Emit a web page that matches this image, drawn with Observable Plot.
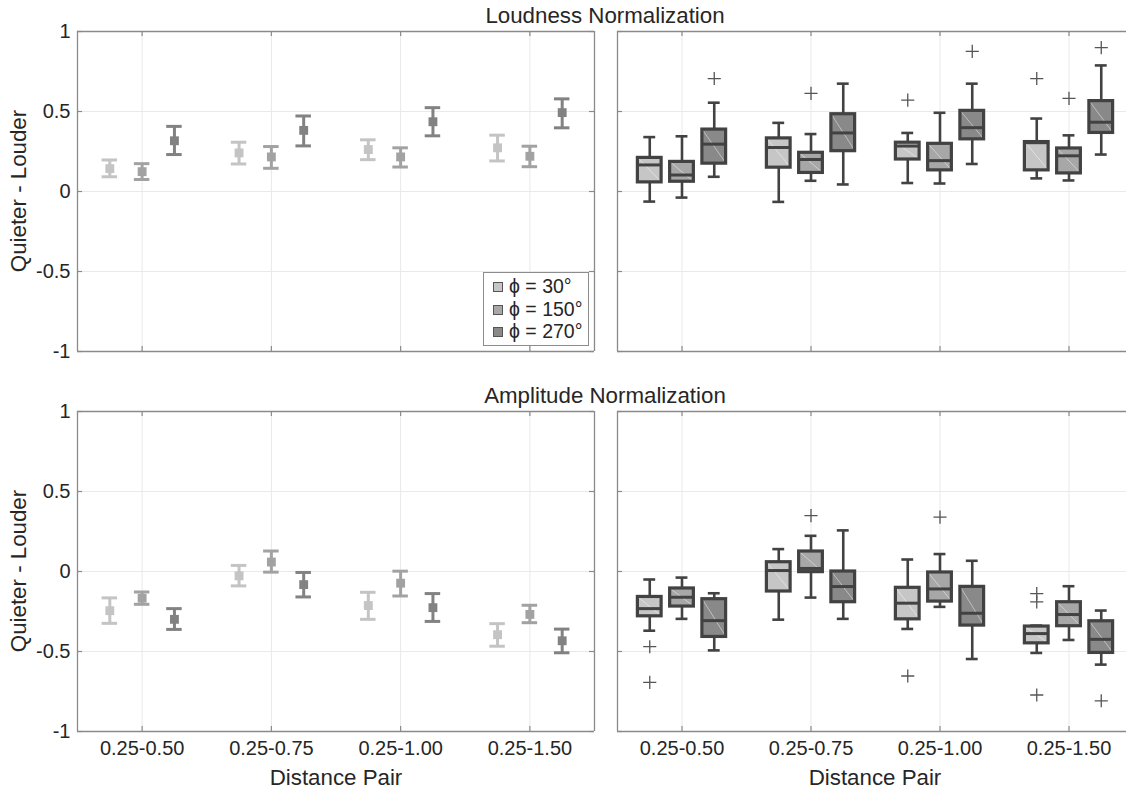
<!DOCTYPE html>
<html><head><meta charset="utf-8">
<script src="https://cdn.jsdelivr.net/npm/d3@7"></script>
<script src="https://cdn.jsdelivr.net/npm/@observablehq/plot@0.6"></script>
<style>
html,body{margin:0;padding:0;background:#fff;overflow:hidden;}
#root{position:relative;width:1126px;height:791px;overflow:hidden;font-family:"Liberation Sans",Helvetica,Arial,sans-serif;color:#262626;}
.pnl{position:absolute;overflow:hidden;}
.pnl svg{max-width:none !important;}
.t{position:absolute;white-space:nowrap;line-height:22px;font-size:22.3px;text-align:center;}
.yl{position:absolute;white-space:nowrap;line-height:22px;font-size:22.3px;text-align:center;width:220px;height:22px;transform:rotate(-90deg);}
#legend{position:absolute;left:483px;top:272px;width:104px;height:72px;border:1px solid #8c8c8c;background:#fff;font-size:19.5px;}
#legend .row{position:absolute;left:9px;height:22px;line-height:22px;white-space:nowrap;}
#legend .sw{display:inline-block;width:8px;height:8px;border:1px solid #555;margin-right:6px;vertical-align:1px;}
</style>
</head><body>
<div id="root"></div>
<script>
// ---------- data ----------
const pairs = ["0.25-0.50", "0.25-0.75", "0.25-1.00", "0.25-1.50"];
const phis = ["ϕ = 30°", "ϕ = 150°", "ϕ = 270°"];
const yTicks = [-1, -0.5, 0, 0.5, 1];
const titles = ["Loudness Normalization", "Amplitude Normalization"];
const xLabel = "Distance Pair";
const yLabel = "Quieter - Louder";

// error bars (rows: phi, cols: pair)
const loudMean = [[0.143, 0.241, 0.262, 0.273], [0.124, 0.216, 0.216, 0.220], [0.317, 0.382, 0.436, 0.493]];
const loudLo   = [[0.092, 0.172, 0.199, 0.191], [0.075, 0.145, 0.153, 0.155], [0.231, 0.285, 0.348, 0.398]];
const loudHi   = [[0.197, 0.308, 0.323, 0.352], [0.174, 0.281, 0.273, 0.283], [0.407, 0.472, 0.524, 0.579]];
const ampMean  = [[-0.245, -0.027, -0.213, -0.395], [-0.167, 0.059, -0.073, -0.268], [-0.299, -0.082, -0.226, -0.433]];
const ampLo    = [[-0.324, -0.090, -0.299, -0.467], [-0.205, -0.004, -0.153, -0.320], [-0.362, -0.159, -0.312, -0.508]];
const ampHi    = [[-0.165, 0.038, -0.130, -0.326], [-0.128, 0.128, 0.002, -0.211], [-0.232, -0.006, -0.138, -0.360]];

// box plots (rows: phi, cols: pair)
const loudWLo = [[-0.063, -0.065, 0.053, 0.082], [-0.038, 0.067, 0.050, 0.069], [0.092, 0.044, 0.172, 0.231]];
const loudQ1  = [[0.057, 0.149, 0.200, 0.132], [0.061, 0.116, 0.132, 0.113], [0.174, 0.252, 0.326, 0.366]];
const loudMed = [[0.166, 0.275, 0.284, 0.305], [0.103, 0.200, 0.193, 0.223], [0.296, 0.366, 0.399, 0.433]];
const loudQ3  = [[0.210, 0.332, 0.305, 0.309], [0.185, 0.242, 0.298, 0.269], [0.387, 0.483, 0.504, 0.565]];
const loudWHi = [[0.340, 0.429, 0.366, 0.456], [0.345, 0.359, 0.492, 0.351], [0.555, 0.674, 0.674, 0.788]];
const loudOut = [[[], [], [0.571], [0.706]], [[], [0.613], [], [0.582]], [[0.706], [], [0.876], [0.899]]];

const ampWLo = [[-0.370, -0.301, -0.359, -0.509], [-0.296, -0.163, -0.221, -0.428], [-0.493, -0.296, -0.547, -0.582]];
const ampQ1  = [[-0.280, -0.125, -0.299, -0.449], [-0.219, -0.004, -0.188, -0.342], [-0.409, -0.192, -0.338, -0.509]];
const ampMed = [[-0.232, 0.006, -0.198, -0.388], [-0.161, 0.019, -0.109, -0.269], [-0.307, -0.094, -0.261, -0.424]];
const ampQ3  = [[-0.159, 0.058, -0.102, -0.344], [-0.106, 0.125, -0.006, -0.192], [-0.173, 0.000, -0.096, -0.311]];
const ampWHi = [[-0.050, 0.140, 0.075, -0.338], [-0.038, 0.223, 0.109, -0.092], [-0.136, 0.257, 0.067, -0.244]];
const ampOut = [[[-0.470, -0.693], [], [-0.653], [-0.138, -0.190, -0.772]], [[], [0.349], [0.340], []], [[], [], [], [-0.808]]];

// ---------- styling ----------
const errColors = ["#c4c4c4", "#a2a2a2", "#828282"];
const boxColors = ["#c6c6c6", "#a7a7a7", "#898989"];
const offsets = [-0.25, 0, 0.25];
const FONT = '"Liberation Sans", Helvetica, Arial, sans-serif';
const FRAME = "#8a8a8a";
const TICKFONT = "20px";

function errRows(mean, lo, hi) {
  const rows = [];
  phis.forEach((p, j) => pairs.forEach((c, i) => rows.push({x: i + 1 + offsets[j], phi: p, m: mean[j][i], lo: lo[j][i], hi: hi[j][i]})));
  return rows;
}
function boxRows(wlo, q1, med, q3, whi) {
  const rows = [];
  phis.forEach((p, j) => pairs.forEach((c, i) => rows.push({x: i + 1 + offsets[j], phi: p, wlo: wlo[j][i], q1: q1[j][i], med: med[j][i], q3: q3[j][i], whi: whi[j][i]})));
  return rows;
}
function outRows(out) {
  const rows = [];
  phis.forEach((p, j) => pairs.forEach((c, i) => out[j][i].forEach(v => rows.push({x: i + 1 + offsets[j], phi: p, v}))));
  return rows;
}

function basePlot(o, marks, colors) {
  const fw = o.width - o.mL - o.mR, fh = o.height - o.mT - o.mB;
  const xt = [1, 2, 3, 4];
  const xd = [0.5, 4.5];
  const frameMarks = [
    Plot.ruleY(yTicks, {insetRight: fw - 5, stroke: FRAME, strokeWidth: 1.2}),
    Plot.ruleX(xt, {insetBottom: fh - 5, stroke: FRAME, strokeWidth: 1.2}),
    Plot.ruleX(xt, {insetTop: fh - 5, stroke: FRAME, strokeWidth: 1.2}),
    Plot.ruleX([xd[0]], {stroke: FRAME, strokeWidth: 1.3}),
    Plot.ruleY([-1, 1], {stroke: FRAME, strokeWidth: 1.3})
  ];
  if (!o.clipRight) {
    frameMarks.push(Plot.ruleY(yTicks, {insetLeft: fw - 5, stroke: FRAME, strokeWidth: 1.2}));
    frameMarks.push(Plot.ruleX([xd[1]], {stroke: FRAME, strokeWidth: 1.3}));
  }
  const svg = Plot.plot({
    width: o.width, height: o.height,
    marginLeft: o.mL, marginRight: o.mR, marginTop: o.mT, marginBottom: o.mB,
    style: {fontFamily: FONT, fontSize: TICKFONT, color: "#262626", background: "transparent", overflow: "visible"},
    x: {domain: xd, ticks: xt, tickFormat: d => pairs[d - 1], tickSize: 0, tickPadding: 9, label: null, axis: o.showX ? "bottom" : null},
    y: {domain: [-1, 1], ticks: yTicks, tickFormat: d => String(d), tickSize: 0, tickPadding: 7, label: null, axis: o.showY ? "left" : null},
    color: {domain: phis, range: colors},
    marks: [
      Plot.ruleX(xt, {stroke: "#e9e9e9", strokeWidth: 1}),
      Plot.ruleY([-0.5, 0, 0.5], {stroke: "#e9e9e9", strokeWidth: 1}),
      ...marks,
      ...frameMarks
    ]
  });
  svg.querySelectorAll("text").forEach(t => { t.style.setProperty("font-size", TICKFONT, "important"); t.style.fill = "#262626"; });
  return svg;
}

function errMarks(rows) {
  const cw = 0.06;
  return [
    Plot.ruleX(rows, {x: "x", y1: "lo", y2: "hi", stroke: "phi", strokeWidth: 3}),
    Plot.ruleY(rows, {y: "lo", x1: d => d.x - cw, x2: d => d.x + cw, stroke: "phi", strokeWidth: 3}),
    Plot.ruleY(rows, {y: "hi", x1: d => d.x - cw, x2: d => d.x + cw, stroke: "phi", strokeWidth: 3}),
    Plot.dot(rows, {x: "x", y: "m", symbol: "square", r: 5, fill: "phi", stroke: null})
  ];
}

function boxMarks(rows, outs) {
  const hw = 0.092, cw = 0.046, dark = "#424242";
  return [
    Plot.ruleX(rows, {x: "x", y1: "q3", y2: "whi", stroke: dark, strokeWidth: 2.6}),
    Plot.ruleX(rows, {x: "x", y1: "wlo", y2: "q1", stroke: dark, strokeWidth: 2.6}),
    Plot.ruleY(rows, {y: "whi", x1: d => d.x - cw, x2: d => d.x + cw, stroke: dark, strokeWidth: 2.6}),
    Plot.ruleY(rows, {y: "wlo", x1: d => d.x - cw, x2: d => d.x + cw, stroke: dark, strokeWidth: 2.6}),
    Plot.rect(rows, {x1: d => d.x - hw, x2: d => d.x + hw, y1: "q1", y2: "q3", fill: "phi"}),
    Plot.link(rows, {x1: d => d.x - hw, y1: "q3", x2: d => d.x + hw, y2: "q1", stroke: "#ffffff", strokeOpacity: 0.45, strokeWidth: 1}),
    Plot.rect(rows, {x1: d => d.x - hw, x2: d => d.x + hw, y1: "q1", y2: "q3", fill: "none", stroke: dark, strokeWidth: 3.2}),
    Plot.ruleY(rows, {y: "med", x1: d => d.x - hw, x2: d => d.x + hw, stroke: dark, strokeWidth: 3}),
    Plot.dot(outs, {x: "x", y: "v", symbol: "plus", r: 4.3, stroke: "#555555", strokeWidth: 1.3})
  ];
}

const root = document.getElementById("root");
function place(el, left, top, w, h, clipW) {
  const d = document.createElement("div");
  d.className = "pnl"; d.style.left = left + "px"; d.style.top = top + "px";
  d.style.width = (clipW || w) + "px"; d.style.height = h + "px";
  el.style.width = w + "px"; el.style.height = h + "px";
  d.appendChild(el); root.appendChild(d);
}

const L = {width: 600, height: 380, mL: 77, mR: 6, mT: 31, mB: 29, showY: true, showX: false};
const R = {width: 533, height: 380, mL: 17, mR: 0, mT: 31, mB: 29, showY: false, showX: false, clipRight: true};
const BL = {width: 600, height: 411, mL: 77, mR: 6, mT: 31, mB: 60, showY: true, showX: true};
const BR = {width: 533, height: 411, mL: 17, mR: 0, mT: 31, mB: 60, showY: false, showX: true, clipRight: true};

place(basePlot(L, errMarks(errRows(loudMean, loudLo, loudHi)), errColors), 0, 0, L.width, L.height);
place(basePlot(R, boxMarks(boxRows(loudWLo, loudQ1, loudMed, loudQ3, loudWHi), outRows(loudOut)), boxColors), 600, 0, R.width, R.height, 526);
place(basePlot(BL, errMarks(errRows(ampMean, ampLo, ampHi)), errColors), 0, 380, BL.width, BL.height);
place(basePlot(BR, boxMarks(boxRows(ampWLo, ampQ1, ampMed, ampQ3, ampWHi), outRows(ampOut)), boxColors), 600, 380, BR.width, BR.height, 526);

// texts
function addText(cls, txt, css) {
  const d = document.createElement("div");
  d.className = cls; d.textContent = txt;
  Object.assign(d.style, css);
  root.appendChild(d);
  return d;
}
addText("t", titles[0], {left: "405px", width: "400px", top: "5px"});
addText("t", titles[1], {left: "405px", width: "400px", top: "385px"});
addText("t", xLabel, {left: "236px", width: "200px", top: "767px"});
addText("t", xLabel, {left: "775px", width: "200px", top: "767px"});
addText("yl", yLabel, {left: (19 - 110) + "px", top: (191 - 11) + "px"});
addText("yl", yLabel, {left: (19 - 110) + "px", top: (571 - 11) + "px"});

// legend
const lg = document.createElement("div");
lg.id = "legend";
phis.forEach((p, j) => {
  const r = document.createElement("div");
  r.className = "row";
  r.style.top = (2 + j * 22.5) + "px";
  const sw = document.createElement("span");
  sw.className = "sw"; sw.style.background = boxColors[j];
  r.appendChild(sw);
  r.appendChild(document.createTextNode(p));
  lg.appendChild(r);
});
root.appendChild(lg);
</script>
</body></html>
